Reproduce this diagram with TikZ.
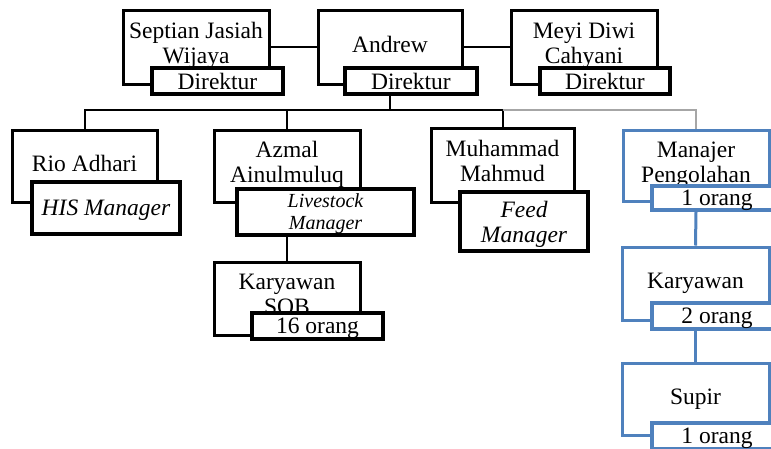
\documentclass[tikz,border=0pt]{standalone}
\usepackage{fontspec}
\setmainfont{Liberation Serif}
\usetikzlibrary{positioning}
\definecolor{unitblue}{RGB}{79,129,189}
\tikzset{
x=1pt, y=-1pt, % one unit is one pixel of the chart, y runs downwards
person/.style={draw, line width=3pt, fill=white, align=center, inner sep=2pt,
  font=\fontsize{23.5}{25}\selectfont,
  execute at begin node=\strut, execute at end node=\strut}, % box with the name
jobbox/.style={draw, line width=4pt, fill=white, align=center, inner sep=1pt,
  text depth=0pt, font=\fontsize{23.5}{25}\selectfont}, % small box with the job
unitbox/.style={person, draw=unitblue}, % boxes of the processing unit
unitjob/.style={jobbox, draw=unitblue, line width=3.5pt},
conn/.style={line width=2pt}, % black connectors
faint/.style={line width=1.5pt, draw=gray!70}, % the thin grey branch
blueconn/.style={line width=3pt, draw=unitblue},
}

\begin{document}
\begin{tikzpicture}
  \useasboundingbox (0,0) rectangle (771,448);
  \clip (0,0) rectangle (771,448);

  % directors
  \node[person, minimum width=146, minimum height=74] (sep) at (196,47) {Septian Jasiah\\Wijaya};
  \node[jobbox, minimum width=131, minimum height=26] (sepT) at (217.5,81) {Direktur};
  \node[person, minimum width=144, minimum height=74] (and) at (390,47) {Andrew};
  \node[jobbox, minimum width=132, minimum height=26] (andT) at (411,81) {Direktur};
  \node[person, minimum width=146, minimum height=74] (mey) at (584,47) {Meyi Diwi\\Cahyani};
  \node[jobbox, minimum width=130, minimum height=26] (meyT) at (605,81) {Direktur};

  % managers
  \node[person, minimum width=145, minimum height=72] (rio) at (84.5,166) {Rio Adhari};
  \node[jobbox, minimum width=148, minimum height=52, font=\fontsize{23.5}{25}\selectfont\itshape] (rioT) at (106,208) {HIS Manager};
  \node[person, minimum width=146, minimum height=72] (azm) at (287,166) {Azmal\\Ainulmuluq};
  \node[jobbox, minimum width=177, minimum height=46, font=\fontsize{20}{22}\selectfont\itshape] (azmT) at (325.5,212) {Livestock\\Manager};
  \node[person, minimum width=143, minimum height=74] (muh) at (502.5,165) {Muhammad\\Mahmud};
  \node[jobbox, minimum width=128, minimum height=59, font=\fontsize{23.5}{25}\selectfont\itshape] (muhT) at (524,221.5) {Feed\\Manager};
  \node[unitbox, minimum width=146, minimum height=71] (mgr) at (696,165.5) {Manajer\\Pengolahan};
  \node[unitjob, minimum width=130, minimum height=24] (mgrT) at (717,198) {1 orang};

  % staff
  \node[person, minimum width=146, minimum height=73] (sob) at (287,298.5) {Karyawan\\SOB};
  \node[jobbox, minimum width=131, minimum height=26] (sobT) at (317.5,326) {16 orang};
  \node[unitbox, minimum width=147, minimum height=73] (kry) at (695.5,283.5) {Karyawan};
  \node[unitjob, minimum width=130, minimum height=26] (kryT) at (717,316) {2 orang};
  \node[unitbox, minimum width=147, minimum height=72] (sup) at (695.5,399) {Supir};
  \node[unitjob, minimum width=130, minimum height=26] (supT) at (717,436) {1 orang};

  \draw[conn] (sep) -- (and);
  \draw[conn] (and) -- (mey);
  \draw[conn] (and.south |- andT.south) -- ++(0,14) coordinate (bus);
  \draw[conn] (rio.north) |- (bus) -| (muh.north);
  \draw[conn] (azm.north) -- (azm.north |- bus);
  \draw[faint] (muh.north |- bus) -| (mgr.north);
  \draw[conn] (azm.south |- azmT.south) -- (sob.north);
  \draw[blueconn] (mgr.south |- mgrT.south) -- (kry.north);
  \draw[blueconn] (kry.south |- kryT.south) -- (sup.north);

\end{tikzpicture}
\end{document}
